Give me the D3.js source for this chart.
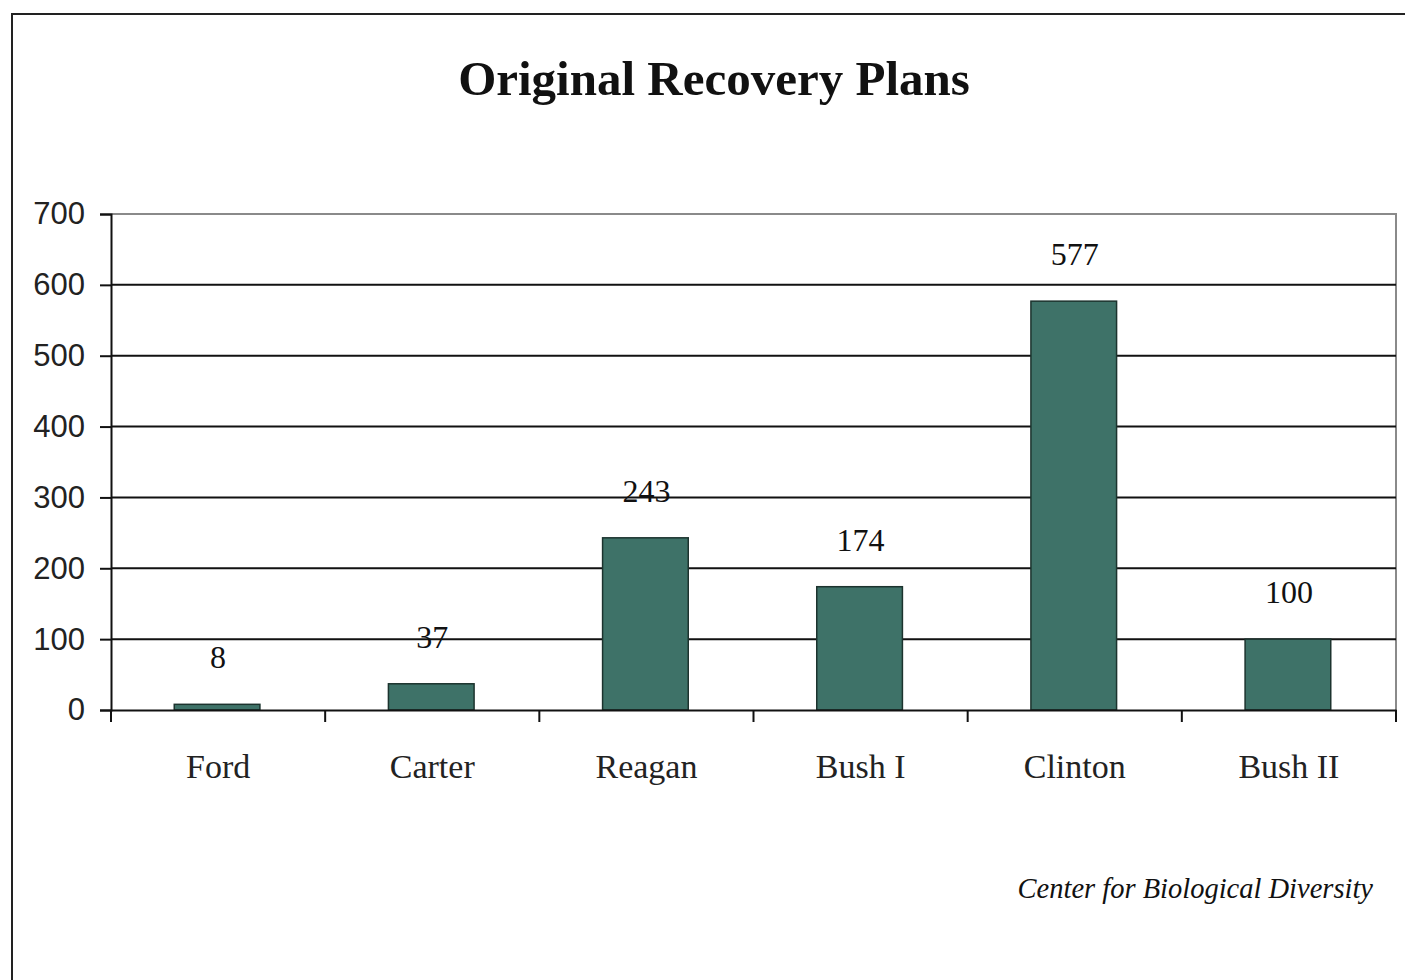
<!DOCTYPE html>
<html>
<head>
<meta charset="utf-8">
<script src="https://cdn.jsdelivr.net/npm/d3@7"></script>
<style>
  body { margin: 0; background: #fff; }
  svg { display: block; }
</style>
</head>
<body>
<div id="main"></div>
<script>
// Datos del gráfico
var categorias = ["Ford", "Carter", "Reagan", "Bush I", "Clinton", "Bush II"];
var valores = [8, 37, 243, 174, 577, 100];
var ticksY = [0, 100, 200, 300, 400, 500, 600, 700];

var totalWidth = 1405;
var totalHeight = 980;
var plot = { left: 111, right: 1396, top: 214, bottom: 710 };
var colorBarra = "#3e7268";

var svg = d3.select("#main").append("svg")
	.attr("width", totalWidth)
	.attr("height", totalHeight);

// Marco exterior (cortado a la derecha y abajo)
svg.append("path")
	.attr("d", "M 12 " + totalHeight + " L 12 14 L " + totalWidth + " 14")
	.attr("fill", "none")
	.attr("stroke", "#222")
	.attr("stroke-width", 2);

// Título
svg.append("text")
	.attr("x", 714)
	.attr("y", 95)
	.attr("text-anchor", "middle")
	.attr("font-family", "'Liberation Serif', serif")
	.attr("font-weight", "bold")
	.attr("font-size", 49)
	.attr("fill", "#111")
	.text("Original Recovery Plans");

var y = d3.scaleLinear().domain([0, 700]).range([plot.bottom, plot.top]);
var x = d3.scaleBand().domain(categorias).range([plot.left, plot.right])
	.paddingInner(0.6).paddingOuter(0.3);

// Borde del área de trazado (gris)
svg.append("path")
	.attr("d", "M " + plot.left + " " + plot.top + " L " + plot.right + " " + plot.top +
		" L " + plot.right + " " + plot.bottom)
	.attr("fill", "none")
	.attr("stroke", "#8a8a8a")
	.attr("stroke-width", 2);

// Líneas de cuadrícula
svg.append("g").selectAll("line")
	.data(ticksY.filter(function(d) { return d > 0 && d < 700; }))
	.enter().append("line")
	.attr("x1", plot.left)
	.attr("x2", plot.right)
	.attr("y1", function(d) { return y(d); })
	.attr("y2", function(d) { return y(d); })
	.attr("stroke", "#111")
	.attr("stroke-width", 2);

// Barras
svg.append("g").selectAll("rect")
	.data(valores)
	.enter().append("rect")
	.attr("x", function(d, i) { return x(categorias[i]) - 1; })
	.attr("y", function(d) { return y(d); })
	.attr("width", x.bandwidth())
	.attr("height", function(d) { return y(0) - y(d); })
	.attr("fill", colorBarra)
	.attr("stroke", "#1c332e")
	.attr("stroke-width", 1.5);

// Etiquetas de valor
svg.append("g").selectAll("text")
	.data(valores)
	.enter().append("text")
	.attr("x", function(d, i) { return x(categorias[i]) + x.bandwidth() / 2; })
	.attr("y", function(d) { return y(d) - 36; })
	.attr("text-anchor", "middle")
	.attr("font-family", "'Liberation Serif', serif")
	.attr("font-size", 32)
	.attr("fill", "#111")
	.text(function(d) { return d; });

// Eje Y
var ejeY = svg.append("g")
	.attr("transform", "translate(" + plot.left + ",0)")
	.call(d3.axisLeft(y).tickValues(ticksY).tickSize(11).tickPadding(15));
ejeY.select(".domain").attr("stroke", "#111").attr("stroke-width", 2);
ejeY.selectAll(".tick line").attr("stroke", "#111").attr("stroke-width", 2);
ejeY.selectAll(".tick text")
	.attr("font-family", "'Liberation Sans', sans-serif")
	.attr("font-size", 31)
	.attr("fill", "#222");

// Eje X
var ejeX = svg.append("g")
	.attr("transform", "translate(0," + plot.bottom + ")")
	.call(d3.axisBottom(x).tickSize(0).tickPadding(44));
ejeX.select(".domain").attr("stroke", "#111").attr("stroke-width", 2);
ejeX.selectAll(".tick text")
	.attr("font-family", "'Liberation Serif', serif")
	.attr("font-size", 34)
	.attr("fill", "#222");

// Marcas del eje X en los límites de cada categoría
var bordes = categorias.map(function(c) { return x(c) - x.step() * x.paddingInner() / 2; });
bordes.push(plot.right);
svg.append("g").selectAll("line")
	.data(bordes)
	.enter().append("line")
	.attr("x1", function(d) { return d; })
	.attr("x2", function(d) { return d; })
	.attr("y1", plot.bottom)
	.attr("y2", plot.bottom + 12)
	.attr("stroke", "#111")
	.attr("stroke-width", 2);

// Fuente
svg.append("text")
	.attr("x", 1373)
	.attr("y", 898)
	.attr("text-anchor", "end")
	.attr("font-family", "'Liberation Serif', serif")
	.attr("font-style", "italic")
	.attr("font-size", 28.5)
	.attr("fill", "#111")
	.text("Center for Biological Diversity");
</script>
</body>
</html>
